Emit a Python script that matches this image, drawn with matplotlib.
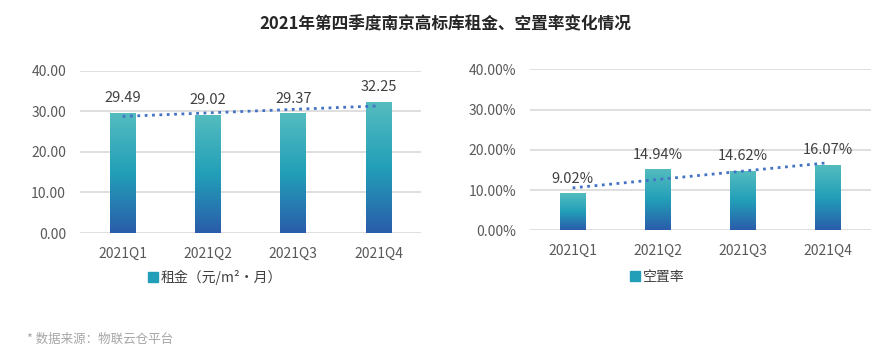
import numpy as np
import matplotlib.pyplot as plt
from matplotlib.colors import LinearSegmentedColormap
from matplotlib.patches import Rectangle

plt.rcParams['font.family'] = ['Noto Sans CJK SC', 'DejaVu Sans']

quarters = ['2021Q1', '2021Q2', '2021Q3', '2021Q4']
rent = [29.49, 29.02, 29.37, 32.25]
vacancy = [9.02, 14.94, 14.62, 16.07]

title = '2021年第四季度南京高标库租金、空置率变化情况'
rent_label = '租金（元/m²·月）'
vac_label = '空置率'
source = '* 数据来源：物联云仓平台'

grad = LinearSegmentedColormap.from_list('g', ['#2a5caa', '#229fb8', '#54bcbf'])
grid_c = '#d9d9d9'
tick_c = '#595959'


def draw(ax, vals, ymax, fmt):
    x = np.arange(len(vals))
    bars = ax.bar(x, vals, width=0.3, color='none', zorder=3)
    img = np.linspace(0, 1, 256).reshape(-1, 1)
    for b in bars:
        x0, y0 = b.get_x(), b.get_y()
        ax.imshow(img, cmap=grad, origin='lower', aspect='auto', zorder=3,
                  extent=[x0, x0 + b.get_width(), y0, y0 + b.get_height()])
    for xi, v in zip(x, vals):
        ax.annotate(fmt(v), (xi, v), xytext=(0, 11), textcoords='offset points',
                    ha='center', va='center', fontsize=10.5, color='#404040')
    k, c = np.polyfit(x, vals, 1)
    ax.plot(x, k * x + c, ':', color='#4472c4', lw=2, zorder=4)
    ax.set_xlim(-0.5, len(vals) - 0.5)
    ax.set_ylim(0, ymax)
    ax.set_xticks(x)
    ax.set_xticklabels(quarters)
    ax.set_yticks(np.linspace(0, ymax, 5))
    ax.grid(axis='y', color=grid_c, lw=1.2, zorder=0)
    for s in ax.spines.values():
        s.set_visible(False)
    ax.tick_params(length=0, labelsize=10, colors=tick_c, pad=10)


fig = plt.figure(figsize=(8.9, 3.54), dpi=100)
ax1 = fig.add_axes([0.0899, 0.3418, 0.3833, 0.4585])
ax2 = fig.add_axes([0.5955, 0.3494, 0.3828, 0.4548])

draw(ax1, rent, 40, lambda v: f'{v:.2f}')
ax1.set_yticklabels([f'{t:.2f}' for t in np.linspace(0, 40, 5)])
draw(ax2, vacancy, 40, lambda v: f'{v:.2f}%')
ax2.set_yticklabels([f'{t:.2f}%' for t in np.linspace(0, 40, 5)])

for ax, lab, cx in [(ax1, rent_label, 215 / 890), (ax2, vac_label, 657 / 890)]:
    h = Rectangle((0, 0), 1, 1, color='#229fb8')
    fig.legend([h], [lab], loc='center', bbox_to_anchor=(cx, 1 - 277 / 354),
               frameon=False, fontsize=10, handlelength=0.7, handleheight=0.7,
               handletextpad=0.2, labelcolor='#404040')

fig.text(445 / 890, 1 - 24 / 354, title, ha='center', va='center',
         fontsize=12, fontweight='bold', color='#262626')
fig.text(27 / 890, 1 - 339 / 354, source, ha='left', va='center',
         fontsize=9, color='#a6a6a6')

fig.savefig('out.png', dpi=100)
